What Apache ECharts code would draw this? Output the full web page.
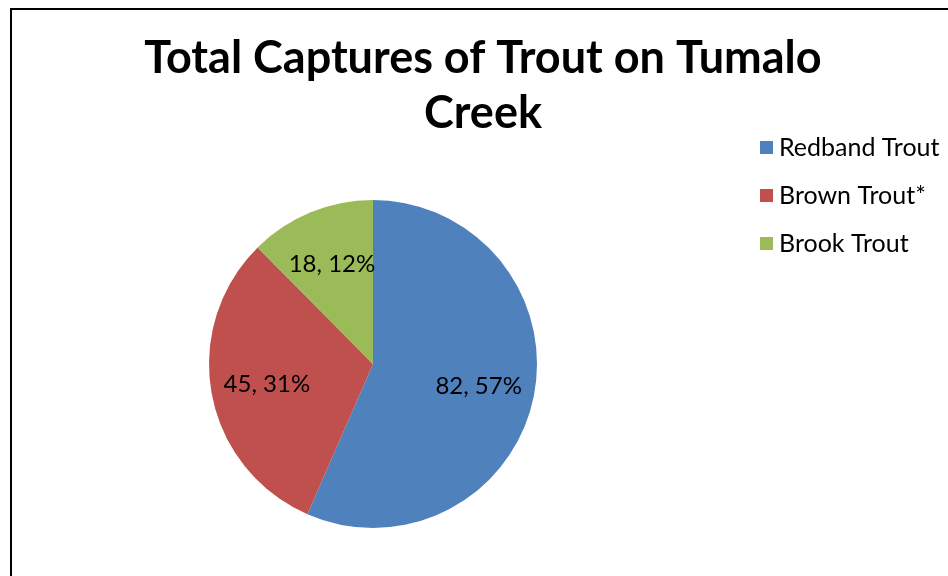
<!DOCTYPE html>
<html><head><meta charset="utf-8">
<script src="https://cdn.jsdelivr.net/npm/echarts@6/dist/echarts.min.js"></script>
<style>html,body{margin:0;padding:0;background:#fff}#c{width:948px;height:576px}</style>
</head><body><div id="c"></div>
<script>
const titleLines = ['Total Captures of Trout on Tumalo', 'Creek'];
const categories = ['Redband Trout', 'Brown Trout*', 'Brook Trout'];
const values = [82, 45, 18];
const colors = ['#4F81BD', '#C0504D', '#9BBB59'];

const FONT = 'Lato, "Open Sans", sans-serif';
const data = categories.map((n, i) => ({ name: n, value: values[i], itemStyle: { color: colors[i] } }));
const R = 164;
const chart = echarts.init(document.getElementById('c'), null, { renderer: 'canvas' });
chart.setOption({
  animation: false,
  backgroundColor: '#fff',
  graphic: [
    { type: 'rect', shape: { x: 11, y: 9, width: 1000, height: 1000 }, style: { fill: 'none', stroke: '#000', lineWidth: 2 }, z: 100 },
    { type: 'text', x: 483, y: 31, style: { text: titleLines.join('\n'), font: 'bold 45px ' + FONT, textAlign: 'center', textVerticalAlign: 'top', lineHeight: 55, fill: '#000' } }
  ],
  legend: {
    orient: 'vertical', left: 755, top: 130, itemWidth: 13, itemHeight: 13, itemGap: 23,
    icon: 'rect', data: categories,
    textStyle: { fontFamily: FONT, fontSize: 25, color: '#000', padding: [0, 0, 0, 1] }
  },
  series: [
    {
      type: 'pie', center: [373, 364], radius: [0, R], startAngle: 90, clockwise: true,
      data: data, label: { show: false }, labelLine: { show: false }, silent: true
    },
    {
      type: 'pie', center: [373, 364], radius: [R * 0.28, R], startAngle: 90, clockwise: true,
      data: categories.map((n, i) => ({ name: n, value: values[i], itemStyle: { color: 'rgba(0,0,0,0)' } })),
      label: {
        show: true, position: 'inside', fontFamily: FONT, fontSize: 24, color: '#000',
        formatter: p => p.value + ', ' + Math.round(p.percent) + '%'
      },
      labelLine: { show: false }, silent: true, legendHoverLink: false
    }
  ]
});
</script></body></html>
